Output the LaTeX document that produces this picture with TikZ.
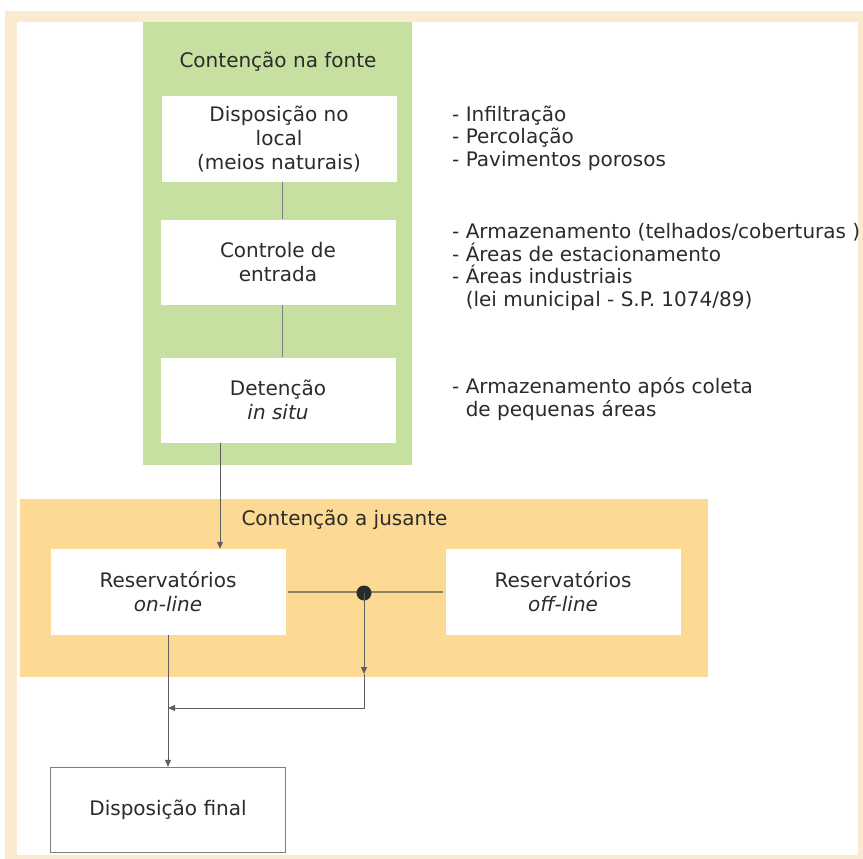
\documentclass[tikz,border=0pt]{standalone}
\usepackage{fontspec}
\setmainfont{DejaVu Sans}
\usetikzlibrary{arrows.meta}
\definecolor{framebeige}{HTML}{FAEBD0}
\definecolor{srcgreen}{HTML}{C6E0A1}
\definecolor{downorange}{HTML}{FDDA94}
\definecolor{ink}{HTML}{2B2B2B}
\definecolor{wire}{HTML}{5E5E5E}
\definecolor{olive}{HTML}{8E8260}
\tikzset{
  txt/.style={font=\fontsize{20}{24}\selectfont, text=ink},
  whitebox/.style={txt, fill=white, draw=none, align=center,
    minimum width=235pt, minimum height=86pt, inner sep=0pt},
  notes/.style={txt, font=\fontsize{20}{22.5}\selectfont, align=left,
    anchor=base west, inner sep=0pt},
  tip/.style={-{Triangle[length=7pt,width=6pt]}},
  conn/.style={draw=wire, line width=1pt}
}
\begin{document}
\begin{tikzpicture}[x=1pt,y=-1pt]
\useasboundingbox (0,0) rectangle (863,859);
% frame
\fill[framebeige] (5,11) rectangle (863,859);
\fill[white] (17,22) rectangle (858,855);
% zones
\fill[srcgreen] (143,22) rectangle (412,465);
\fill[downorange] (20,499) rectangle (708,677);
\node[txt, anchor=base] (tfonte) at (278,68) {Contenção na fonte};
\node[txt, anchor=base west] (tjus) at (238,525) {Contenção a jusante};
% source-control boxes
\node[whitebox] (box1) at (279,139) {Disposição no\\local\\(meios naturais)};
\node[whitebox, minimum height=85pt] (box2) at (278,262) {Controle de\\entrada};
\node[whitebox, minimum height=85pt] (box3) at (278,400) {Detenção\\\textit{in situ}};
% downstream boxes
\node[whitebox] (online) at (168,592) {Reservatórios\\\textit{on-line}};
\node[whitebox] (offline) at (563,592) {Reservatórios\\\textit{off-line}};
\node[whitebox, draw=wire!80, line width=1.3pt, minimum height=85pt] (final) at (168,810) {Disposição final};
% notes (anchored at the baseline of their last line)
\node[notes] (n1) at (452,166) {- Infiltração\\- Percolação\\- Pavimentos porosos};
\node[notes] (n2) at (452,306) {- Armazenamento (telhados/coberturas )\\- Áreas de estacionamento\\- Áreas industriais\\\phantom{- }(lei municipal - S.P. 1074/89)};
\node[notes] (n3) at (452,416) {- Armazenamento após coleta\\\phantom{- }de pequenas áreas};
% connectors
\draw[conn, draw=wire!80] (box1.south -| 282,0) -- (box2.north -| 282,0);
\draw[conn, draw=wire!80] (box2.south -| 282,0) -- (box3.north -| 282,0);
\coordinate (a) at ([xshift=-58pt]box3.south);
\draw[conn, tip] (a) -- (a |- online.north);
\draw[olive, line width=1.3pt] ([xshift=2pt]online.east) -- ([xshift=-2pt]offline.west);
\coordinate (j) at (364,593);
\coordinate (k) at (364,708);
\coordinate (m) at (364,674);
\fill[ink] (j) circle (7.5pt);
\draw[conn, tip] (j) -- (m);
\draw[conn, tip] (m) -- (k) -- (k -| online.south);
\draw[conn, tip] (online.south) -- (final.north);
\end{tikzpicture}
\end{document}
